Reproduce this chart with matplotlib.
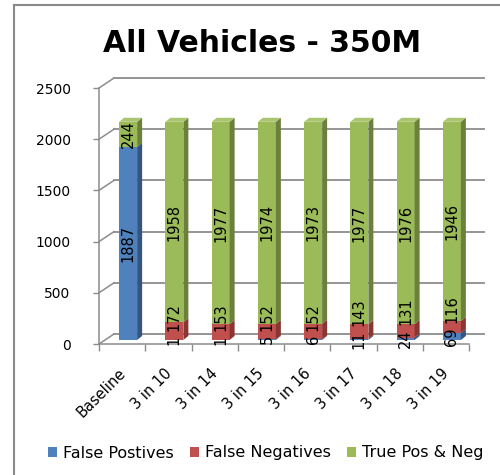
import matplotlib
matplotlib.use('Agg')
import matplotlib.pyplot as plt
from matplotlib.patches import Polygon, Rectangle
from matplotlib.lines import Line2D
import matplotlib.transforms as mtransforms

categories = ['Baseline', '3 in 10', '3 in 14', '3 in 15', '3 in 16', '3 in 17', '3 in 18', '3 in 19']
false_pos = [1887, 1, 1, 5, 6, 11, 24, 69]
false_neg = [0, 172, 153, 152, 152, 143, 131, 116]
true_pn = [244, 1958, 1977, 1974, 1973, 1977, 1976, 1946]
series_names = ['False Postives', 'False Negatives', 'True Pos & Neg']
y_ticks = [0, 500, 1000, 1500, 2000, 2500]

front_colors = ['#4F81BD', '#C0504D', '#9BBB59']
side_colors = ['#34557D', '#8A3532', '#6A803C']
top_colors = ['#6A95C8', '#CE6E6B', '#A9C56F']

W, H, DPI = 500, 475, 100
fig = plt.figure(figsize=(W / DPI, H / DPI), dpi=DPI)
ax_l, ax_r, ax_t, ax_b = 99, 469, 88, 344
ax = fig.add_axes([ax_l / W, 1 - ax_b / H, (ax_r - ax_l) / W, (ax_b - ax_t) / H])
n = len(categories)
ax.set_xlim(-0.5, n - 0.5)
ax.set_ylim(0, 2500)

xpx = (ax_r - ax_l) / n
ypx = (ax_b - ax_t) / 2500.0

def dxd(p):
    return p / xpx

def dyd(p):
    return p / ypx

grid_c = '#8C8C8C'
# back wall / floor gridlines
wdx, wdy = dxd(15), dyd(10)
for y in y_ticks:
    ax.plot([-0.5, -0.5 + wdx], [y, y + wdy], color=grid_c, lw=1.1, clip_on=False, zorder=1)
    ax.plot([-0.5 + wdx, n - 0.5 + wdx], [y + wdy, y + wdy], color=grid_c, lw=1.3,
            clip_on=False, zorder=1)

# bars
off = mtransforms.ScaledTranslation(6 / DPI, 4 / DPI, fig.dpi_scale_trans)
tr = ax.transData + off
bw = dxd(18)
bdx, bdy = dxd(5), dyd(4)
xs = list(range(n))
series = [false_pos, false_neg, true_pn]
bottoms = [0] * n
for si, vals in enumerate(series):
    ax.bar(xs, vals, width=bw, bottom=bottoms, color=front_colors[si], linewidth=0,
           transform=tr, zorder=3, clip_on=False)
    for i in xs:
        v = vals[i]
        if v <= 0:
            continue
        y0, y1 = bottoms[i], bottoms[i] + v
        xr = i + bw / 2
        side = Polygon([(xr, y0), (xr + bdx, y0 + bdy), (xr + bdx, y1 + bdy), (xr, y1)],
                       closed=True, facecolor=side_colors[si], edgecolor='none',
                       transform=tr, zorder=3, clip_on=False)
        ax.add_patch(side)
        if si == len(series) - 1:
            xl = i - bw / 2
            top = Polygon([(xl, y1), (xr, y1), (xr + bdx, y1 + bdy), (xl + bdx, y1 + bdy)],
                          closed=True, facecolor=top_colors[si], edgecolor='none',
                          transform=tr, zorder=3, clip_on=False)
            ax.add_patch(top)
    bottoms = [b + v for b, v in zip(bottoms, vals)]

# data labels
fs = 10.5
digit_px = 0.636 * fs * DPI / 72
for i in xs:
    fp, fn, tp = false_pos[i], false_neg[i], true_pn[i]
    if fp > 0:
        ax.text(i, fp / 2, str(fp), rotation=90, ha='center', va='center', fontsize=fs,
                transform=tr, zorder=6, clip_on=False)
    if fn > 0:
        fp_top = fp / 2 + dyd(len(str(fp)) * digit_px / 2 + 4)
        fn_half = dyd(len(str(fn)) * digit_px / 2)
        yc = max(fp + fn / 2, fp_top + fn_half)
        ax.text(i, yc, str(fn), rotation=90, ha='center', va='center', fontsize=fs,
                transform=tr, zorder=6, clip_on=False)
    if tp > 0:
        ax.text(i, fp + fn + tp / 2, str(tp), rotation=90, ha='center', va='center',
                fontsize=fs, transform=tr, zorder=6, clip_on=False)

# axes styling
for s in ['top', 'right']:
    ax.spines[s].set_visible(False)
for s in ['left', 'bottom']:
    ax.spines[s].set_color(grid_c)
    ax.spines[s].set_linewidth(1.1)
    ax.spines[s].set_zorder(2)
ax.set_yticks(y_ticks)
ax.set_yticklabels([str(t) for t in y_ticks])
ax.tick_params(axis='y', direction='out', length=4, width=1, color=grid_c, pad=16.5,
               labelsize=10)
ax.set_xticks([k - 0.5 for k in range(n + 1)])
ax.set_xticklabels([])
ax.tick_params(axis='x', direction='out', length=5, width=1, color=grid_c)
lab_tr = ax.get_xaxis_transform() + mtransforms.ScaledTranslation(1 / DPI, -27 / DPI,
                                                                   fig.dpi_scale_trans)
for i, c in enumerate(categories):
    ax.text(i, 0, c, rotation=45, rotation_mode='anchor', ha='right', va='center',
            fontsize=10.5, transform=lab_tr, clip_on=False)

# title
fig.text(262 / W, 1 - 43 / H, 'All Vehicles - 350M', ha='center', va='center',
         fontsize=21.5, fontweight='bold')

# legend
handles = [Rectangle((0, 0), 1, 1, facecolor=c, edgecolor='none') for c in front_colors]
fig.legend(handles, series_names, loc='center', bbox_to_anchor=(266 / W, 1 - 453 / H),
           ncol=3, frameon=False, fontsize=11.5, handlelength=0.55, handleheight=0.55,
           handletextpad=0.4, columnspacing=1.0)

# outer border (cropped chart frame)
bc = '#8A8A8A'
fig.add_artist(Line2D([14 / W, 14 / W], [0, 1 - 5 / H], color=bc, lw=1.5,
                      transform=fig.transFigure))
fig.add_artist(Line2D([14 / W, 1], [1 - 5 / H, 1 - 5 / H], color=bc, lw=1.5,
                      transform=fig.transFigure))

fig.savefig('out.png', dpi=DPI, facecolor='white')
